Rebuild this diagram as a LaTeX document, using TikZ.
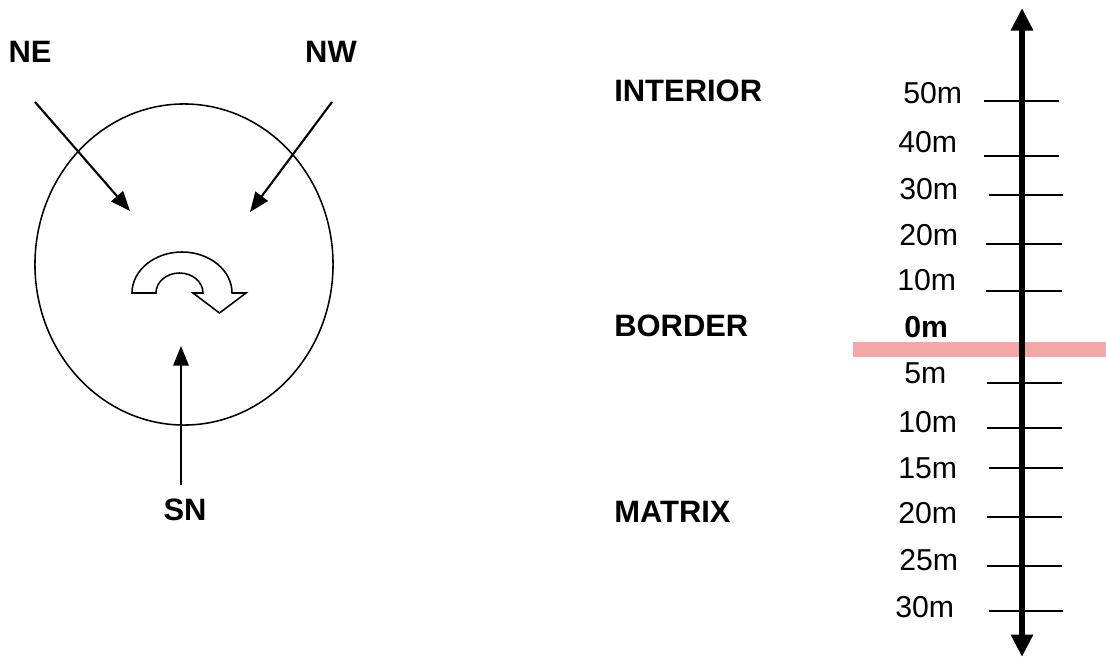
\documentclass[tikz,border=0pt]{standalone}
\usepackage{fontspec}
\setmainfont{Liberation Sans}
\usetikzlibrary{arrows.meta}
\definecolor{bandpink}{HTML}{F4A7A7}
\tikzset{
  lbl/.style={font=\fontsize{22}{24}\selectfont\bfseries, inner sep=0pt},
  zone/.style={font=\fontsize{22}{24}\selectfont\bfseries, inner sep=0pt, anchor=west},
  dist/.style={font=\fontsize{21.5}{24}\selectfont, inner sep=0pt, anchor=base west},
  inarrow/.style={line width=1.5pt, -{Triangle[length=14pt,width=11pt]}},
  axis/.style={line width=4.3pt, {Triangle[length=16pt,width=15pt]}-{Triangle[length=16pt,width=15pt]}},
  tick/.style={line width=1.4pt},
  thin/.style={line width=1.1pt}
}
\begin{document}
\begin{tikzpicture}[x=0.025cm,y=-0.025cm]
\useasboundingbox (0,0) rectangle (1106,658);
% left: circle
\draw[thin] (184,264.5) ellipse [x radius=3.725cm, y radius=4.0125cm];
\node[lbl] (ne) at (30,52) {NE};
\node[lbl] (nw) at (331,52) {NW};
\node[lbl] (sn) at (185,510) {SN};
\coordinate (nes) at (35,102);
\coordinate (nee) at (130,211);
\coordinate (nws) at (332,102);
\coordinate (nwe) at (250,212);
\coordinate (sns) at (181,485);
\coordinate (sne) at (181,346);
\draw[inarrow] (nes) -- (nee);
\draw[inarrow] (nws) -- (nwe);
\draw[inarrow] (sns) -- (sne);
% curved block arrow
\draw[thin, line join=miter] (132,293) arc[start angle=180, end angle=0, x radius=1.25cm, y radius=1.025cm]
  -- (246,293) -- (219.5,313) -- (193,293) -- (203,293)
  arc[start angle=0, end angle=180, x radius=0.5875cm, y radius=0.5cm] -- cycle;
% right: zones
\node[zone] (interior) at (614,91) {INTERIOR};
\node[zone] (border) at (614,326) {BORDER};
\node[zone] (matrix) at (614,512) {MATRIX};
% pink border band
\fill[bandpink] (853,342) rectangle (1106,357);
% ticks
\foreach \y/\a/\b in {101/984/1059,156/984/1059,195/989/1063,244/986/1062,291/986/1062,
                      383/987/1062,428/987/1062,468/989/1063,517/987/1062,566/987/1062,611/989/1063}
  \draw[tick] (\a,\y) -- (\b,\y);
% axis
\coordinate (atop) at (1022,8);
\coordinate (abot) at (1022,657);
\draw[axis] (abot) -- (atop);
% distance labels
\node[dist] (d50) at (903,103) {50m};
\node[dist] (d40) at (898,152) {40m};
\node[dist] (d30) at (899,199) {30m};
\node[dist] (d20) at (899,245) {20m};
\node[dist] (d10) at (897,290) {10m};
\node[dist, font=\fontsize{21.5}{24}\selectfont\bfseries] (d0) at (904,337) {0m};
\node[dist] (m5) at (904,383) {5m};
\node[dist] (m10) at (898,432) {10m};
\node[dist] (m15) at (898,478) {15m};
\node[dist] (m20) at (898,523) {20m};
\node[dist] (m25) at (899,570) {25m};
\node[dist] (m30) at (895,617) {30m};
\end{tikzpicture}
\end{document}
